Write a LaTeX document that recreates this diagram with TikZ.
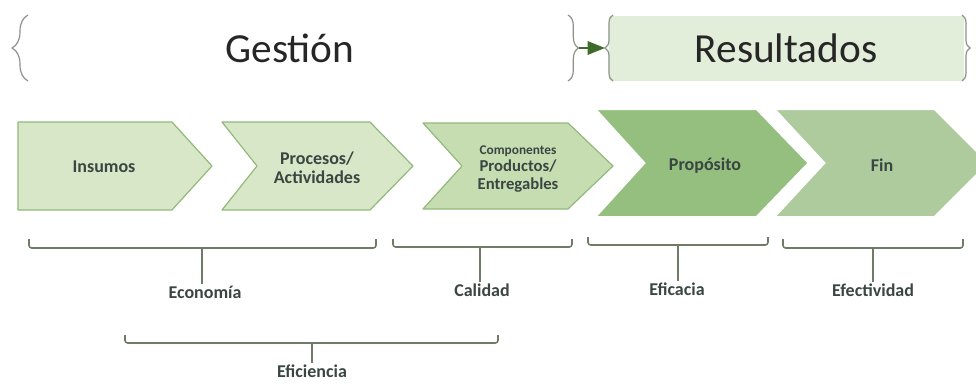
\documentclass[tikz,border=0pt]{standalone}
\usepackage{fontspec}
\setmainfont{Carlito}
\usetikzlibrary{positioning,decorations.pathreplacing,arrows.meta}

\definecolor{chevA}{HTML}{D7E7C8}
\definecolor{chevB}{HTML}{C6DDB2}
\definecolor{chevC}{HTML}{94BF7E}
\definecolor{chevD}{HTML}{AECB9E}
\definecolor{chevline}{HTML}{92B97A}
\definecolor{resbox}{HTML}{E2EEDA}
\definecolor{arrowc}{HTML}{3F6A2A}
\definecolor{bracec}{HTML}{8C928A}
\definecolor{bracketc}{HTML}{6E7B67}
\definecolor{txtc}{HTML}{3A4642}

\begin{document}
\begin{tikzpicture}[x=0.75pt, y=-0.75pt,
	every node/.style={inner sep=1pt, text=txtc, align=center, font=\bfseries\fontsize{13.5}{14.5}\selectfont},
	title/.style={font=\fontsize{31}{36}\selectfont, text=black!85},
	chev/.style={draw=chevline, line width=0.9pt, fill=chevA, line join=round},
	bigchev/.style={draw=white, line width=3pt},
	topbrace/.style={draw=bracec, line width=0.9pt, decorate, decoration={brace, amplitude=#1}},
	topbrace/.default=8pt,
	bracket/.style={draw=bracketc, line width=1.2pt, rounded corners=2pt},
	stem/.style={draw=bracketc, line width=1pt}]
	\useasboundingbox (0,0) rectangle (976,383);

	% encabezado
	\fill[resbox, rounded corners=2pt] (609,16) rectangle (964,81);
	\node[title] (gestion) at (290,48) {Gestión};
	\node[title] (resultados) at (786,48) {Resultados};
	\draw[topbrace=12pt] (28,81) -- (28,15);
	\draw[topbrace=8pt] (568,15) -- (568,81);
	\draw[topbrace=6pt] (613,81) -- (613,15);
	\draw[topbrace=6pt] (962,15) -- (962,81);
	\coordinate (gtip) at (579,48);
	\coordinate (rtip) at (605,48);
	\draw[-{Triangle[length=13pt, width=10pt]}, draw=arrowc, line width=1.5pt] (gtip) -- (rtip);

	% cadena
	\draw[chev] (18,122) -- (172,122) -- (212,166) -- (172,210) -- (18,210) -- cycle;
	\node (insumos) at (104,167) {Insumos};
	\draw[chev] (222,122) -- (370,122) -- (413,166) -- (370,210) -- (222,210) -- (257,166) -- cycle;
	\node (procesos) at (317,168) {Procesos/\\Actividades};
	\draw[chev, fill=chevB] (423,123) -- (568,123) -- (613,166) -- (568,209) -- (423,209) -- (462,166) -- cycle;
	\node[font=\bfseries\fontsize{12.5}{12.8}\selectfont] (componentes) at (518,169) {{\fontsize{10}{12}\selectfont Componentes}\\Productos/\\Entregables};
	\draw[bigchev, fill=chevD] (772,108) -- (935,108) -- (990,163) -- (935,218) -- (772,218) -- (823,163) -- cycle;
	\node (fin) at (882,165) {Fin};
	\draw[bigchev, fill=chevC] (593,108) -- (757,108) -- (810,163) -- (757,218) -- (593,218) -- (643,163) -- cycle;
	\node (proposito) at (705,166) {Propósito};

	% criterios
	\draw[bracket] (29,239) -- (29,248) -- (376,248) -- (376,239);
	\coordinate (econ) at (202,248);
	\node (economia) at (205,292) {Economía};
	\draw[stem] (econ) -- (econ |- economia.north);
	\draw[bracket] (393,239) -- (393,247) -- (572,247) -- (572,239);
	\coordinate (cal) at (480,247);
	\node (calidad) at (482,290) {Calidad};
	\draw[stem] (cal) -- (cal |- calidad.north);
	\draw[bracket] (588,237) -- (588,245) -- (768,245) -- (768,237);
	\coordinate (efa) at (678,245);
	\node (eficacia) at (677,289) {Eficacia};
	\draw[stem] (efa) -- (efa |- eficacia.north);
	\draw[bracket] (783,239) -- (783,248) -- (963,248) -- (963,239);
	\coordinate (efe) at (873,248);
	\node (efectividad) at (873,290) {Efectividad};
	\draw[stem] (efe) -- (efe |- efectividad.north);
	\draw[bracket] (125,335) -- (125,343) -- (498,343) -- (498,335);
	\coordinate (efi) at (312,343);
	\node (eficiencia) at (312,371) {Eficiencia};
	\draw[stem] (efi) -- (efi |- eficiencia.north);
\end{tikzpicture}
\end{document}
